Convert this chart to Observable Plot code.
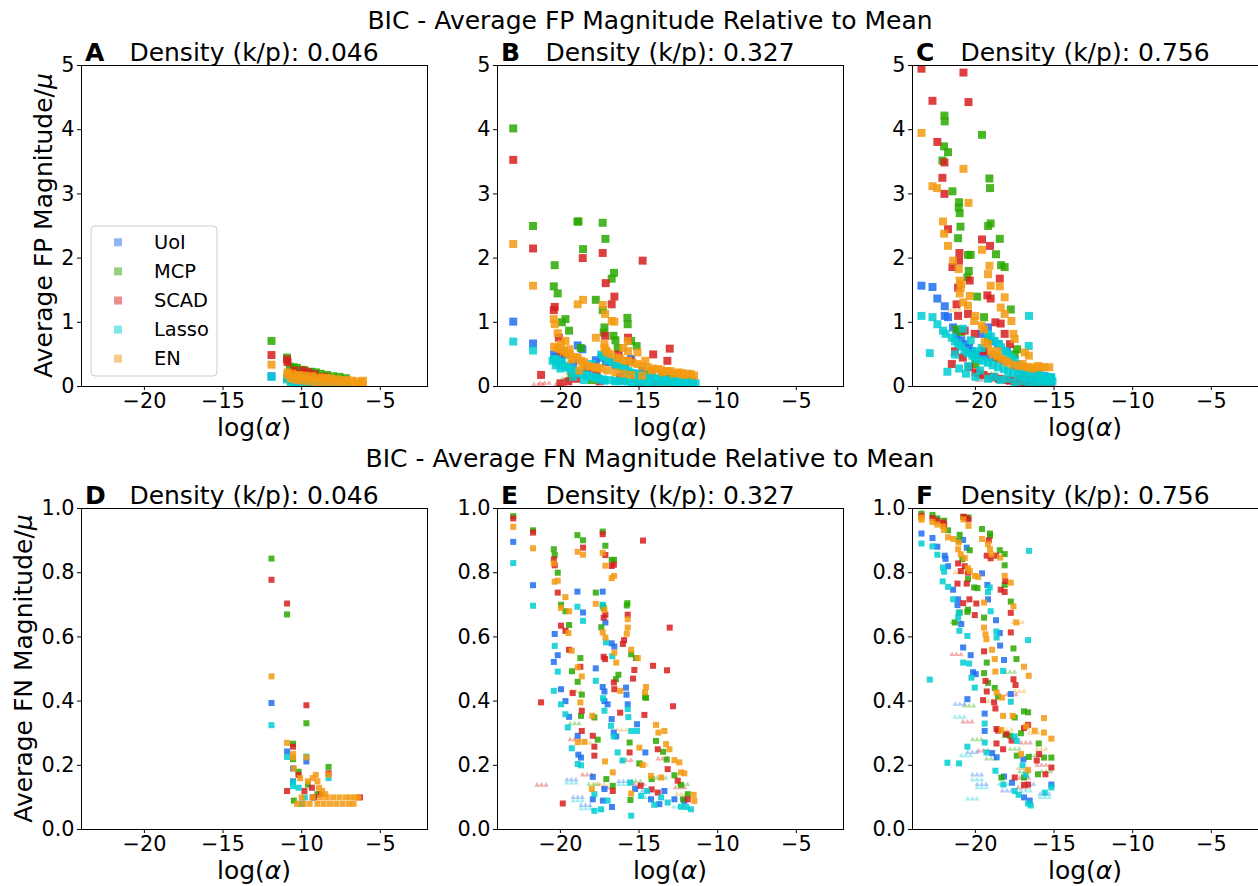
<!DOCTYPE html>
<html><head><meta charset="utf-8">
<script src="https://cdn.jsdelivr.net/npm/d3@7"></script>
<script src="https://cdn.jsdelivr.net/npm/@observablehq/plot@0.6"></script>
<style>
body{margin:0;background:#fff;}
#fig{position:relative;width:1258px;height:886px;overflow:hidden;background:#fff;font-family:"DejaVu Sans",sans-serif;}
</style></head><body><div id="fig"></div>
<script>
const methods = ["UoI","MCP","SCAD","Lasso","EN"];
const colors = ["#1f6ff0","#2aa800","#d81e1e","#00ced1","#f39a12"];
const xTicks = [-20,-15,-10,-5];
const topYTicks = [0,1,2,3,4,5];
const botYTicks = [0,0.2,0.4,0.6,0.8,1.0];
const letters = ["A","B","C","D","E","F"];
const densities = ["0.046","0.327","0.756"];

// ---------- Panel A (FP, density 0.046) ----------
const A_UoI = [[-11.92,0.16],[-10.93,0.13],[-10.7,0.1],[-10.4,0.08],[-10.0,0.06],[-9.5,0.05],[-9.0,0.04]];
const A_MCP = [[-11.92,0.71],[-10.93,0.45],[-10.75,0.31],[-10.5,0.3],[-10.3,0.29],[-10.0,0.26],[-9.8,0.25],[-9.4,0.23],[-9.1,0.22],[-8.8,0.2],[-8.4,0.18],[-8.0,0.16],[-7.6,0.15],[-7.2,0.13]];
const A_SCAD = [[-11.92,0.49],[-10.93,0.42],[-10.9,0.38],[-10.5,0.25],[-9.9,0.25],[-9.6,0.22],[-10.2,0.2],[-9.2,0.19],[-8.6,0.15]];
const A_Lasso = [[-11.92,0.15],[-10.93,0.11],[-10.7,0.07],[-10.4,0.05],[-10.0,0.04],[-9.6,0.03],[-9.2,0.03],[-8.8,0.02],[-8.4,0.02],[-8.0,0.02],[-7.6,0.01],[-7.2,0.01]];
const A_EN = [[-11.92,0.34],[-10.9,0.22],[-10.9,0.18],[-10.6,0.2],[-10.5,0.16],[-10.2,0.18],[-10.0,0.15],[-9.8,0.17],[-9.5,0.14],[-9.3,0.16],[-9.0,0.13],[-8.7,0.14],[-8.5,0.12],[-8.2,0.13],[-8.0,0.11],[-7.7,0.11],[-7.4,0.1],[-7.1,0.1],[-6.8,0.09],[-6.5,0.08],[-6.2,0.07],[-10.7,0.12],[-10.3,0.1],[-9.9,0.09],[-9.5,0.08],[-9.1,0.07],[-8.7,0.07],[-8.3,0.06],[-7.9,0.06],[-7.5,0.05],[-7.1,0.05],[-6.7,0.04],[-6.3,0.04],[-6.1,0.03],[-6.1,0.09]];

// ---------- Panel B (FP, density 0.327) ----------
const B_UoI = [[-23.0,1.01],[-21.74,0.67],[-20.4,0.5],[-20.3,0.45],[-18.9,0.64],[-18.6,0.58],[-19.7,0.5],[-17.75,0.41],[-17.4,0.45],[-17.1,0.38],[-16.5,0.33],[-15.5,0.43],[-15.9,0.3],[-14.8,0.25],[-14.2,0.2],[-13.5,0.16],[-12.8,0.12],[-12.2,0.1],[-11.6,0.08],[-19.2,0.35],[-18.2,0.28],[-20.0,0.4]];
const B_MCP = [[-23.0,4.02],[-21.74,2.5],[-18.92,2.57],[-18.85,2.57],[-17.31,2.55],[-17.14,2.3],[-18.56,2.14],[-20.36,1.89],[-20.42,1.56],[-20.17,1.45],[-16.59,1.77],[-16.74,1.68],[-17.75,1.35],[-17.31,1.19],[-19.68,1.05],[-19.91,1.0],[-19.45,0.87],[-15.74,1.07],[-15.72,0.97],[-17.2,0.92],[-16.63,0.79],[-17.25,0.84],[-15.15,0.63],[-16.36,0.6],[-18.7,0.6],[-15.5,0.71],[-16.5,0.72],[-19.3,0.15],[-18.0,0.1],[-14.5,0.2],[-13.0,0.12],[-12.0,0.1]];
const B_SCAD = [[-23.0,3.53],[-21.74,2.15],[-18.58,2.0],[-17.31,2.08],[-14.77,1.96],[-17.12,1.61],[-16.57,1.4],[-16.74,1.28],[-20.36,1.24],[-20.42,1.19],[-17.16,0.79],[-15.7,0.76],[-13.05,0.59],[-13.2,0.4],[-14.1,0.5],[-20.1,0.76],[-19.96,0.53],[-21.23,0.18],[-15.6,0.4],[-16.3,0.5],[-17.0,0.45],[-18.3,0.3],[-19.0,0.12],[-17.5,0.08],[-16.0,0.1],[-15.0,0.05],[-14.0,0.04],[-13.0,0.03],[-12.0,0.02],[-20.0,0.05],[-16.8,0.38],[-18.8,0.2],[-17.7,0.18],[-16.2,0.15],[-15.3,0.12],[-13.5,0.08],[-12.5,0.05],[-11.6,0.03],[-19.5,0.08]];
const B_Lasso = [[-23.0,0.7],[-21.74,0.56],[-20.38,0.43],[-20.17,0.37],[-20.3,0.33],[-19.7,0.32],[-19.4,0.28],[-19.1,0.24],[-18.8,0.21],[-18.5,0.19],[-18.2,0.16],[-17.8,0.14],[-17.5,0.11],[-17.2,0.09],[-17.4,0.5],[-17.2,0.46],[-17.0,0.43],[-16.7,0.38],[-16.4,0.32],[-16.0,0.28],[-15.7,0.24],[-15.4,0.21],[-15.1,0.19],[-14.7,0.16],[-14.2,0.14],[-13.8,0.12],[-13.4,0.1],[-13.0,0.09],[-12.5,0.08],[-12.1,0.07],[-11.7,0.06],[-11.4,0.05],[-19.9,0.38],[-19.2,0.15],[-18.5,0.1],[-16.5,0.08],[-15.5,0.06],[-14.5,0.05],[-20.0,0.28],[-18.0,0.35],[-16.0,0.12],[-15.0,0.1],
  [-20.5,0.4],[-20.2,0.42],[-19.9,0.33],[-19.6,0.3],[-19.3,0.26],[-19.0,0.22],[-18.7,0.2],[-18.3,0.17],[-17.9,0.15],[-17.6,0.13],[-17.3,0.11],[-16.9,0.1],[-16.5,0.09],[-16.1,0.08],[-15.7,0.08],[-15.3,0.07],[-14.9,0.07],[-14.4,0.06],[-14.0,0.06],[-13.6,0.06],[-13.2,0.05],[-12.8,0.05],[-12.4,0.05],[-12.0,0.05],[-11.6,0.05],
  [-17.3,0.48],[-16.9,0.4],[-16.2,0.3],[-15.9,0.26],[-15.6,0.22],[-15.2,0.2],[-14.9,0.18],[-14.5,0.15],[-14.0,0.13],[-13.6,0.11],[-13.2,0.1],[-12.7,0.08],[-12.3,0.07],[-11.9,0.06]];
const B_EN = [[-23.0,2.22],[-21.74,1.57],[-18.56,1.35],[-18.9,1.28],[-17.31,1.27],[-17.16,1.13],[-16.74,1.02],[-16.57,1.01],[-20.42,1.05],[-20.36,0.97],[-20.17,0.83],[-17.75,0.76],[-15.72,0.71],[-19.68,0.71],[-19.96,0.66],[-19.43,0.58],[-17.2,0.66],[-17.1,0.56],[-15.1,0.53],[-14.6,0.4],[-20.2,0.6],[-19.8,0.55],[-19.4,0.5],[-18.9,0.45],[-18.7,0.4],[-18.3,0.32],[-17.8,0.3],[-17.4,0.28],[-17.0,0.53],[-16.4,0.45],[-15.7,0.4],[-15.1,0.35],[-14.45,0.3],[-13.8,0.27],[-13.2,0.24],[-12.5,0.22],[-11.9,0.2],[-11.5,0.17],[-16.0,0.6],[-15.7,0.55],[-18.5,0.38],[-17.0,0.25],[-16.5,0.22],[-16.0,0.2],[-15.5,0.18],[-14.8,0.17],[-14.2,0.25],[-13.5,0.22],[-12.8,0.2],[-12.2,0.18],[-19.3,0.42],[-18.8,0.25],
  [-20.4,0.62],[-20.0,0.58],[-19.6,0.52],[-19.1,0.46],[-18.6,0.36],[-18.1,0.31],[-17.6,0.29],[-17.2,0.6],[-16.8,0.5],[-16.2,0.43],[-15.9,0.4],[-15.4,0.37],[-14.8,0.32],[-14.1,0.28],[-13.6,0.26],[-13.0,0.24],[-12.3,0.21],[-11.7,0.19]];

// ---------- Panel C (FP, density 0.756) ----------
const C_UoI = [[-23.43,1.57],[-22.73,1.55],[-22.42,1.37],[-21.95,1.25],[-21.95,1.1],[-21.74,1.08],[-21.42,0.92],[-19.2,0.92],[-18.56,0.66],[-20.68,0.66],[-21.2,0.8],[-20.9,0.72],[-20.4,0.6],[-19.8,0.5],[-19.0,0.45],[-18.2,0.4],[-17.6,0.32],[-17.0,0.25],[-16.3,0.2],[-15.6,0.16],[-15.2,0.14],[-19.6,0.82],[-18.9,0.7],[-18.0,0.55],[-20.2,0.55],[-19.5,0.48],[-18.5,0.42],[-17.3,0.28]];
const C_MCP = [[-21.97,4.22],[-21.95,4.13],[-19.58,3.92],[-21.99,3.74],[-21.74,3.65],[-22.1,3.52],[-19.11,3.24],[-19.07,3.09],[-21.46,3.04],[-21.04,2.87],[-21.06,2.79],[-21.0,2.7],[-20.95,2.49],[-19.19,2.5],[-19.03,2.54],[-18.45,2.3],[-21.1,2.31],[-18.69,2.06],[-20.47,2.05],[-20.3,2.05],[-18.37,1.89],[-18.14,1.86],[-20.42,1.8],[-20.51,1.7],[-19.89,1.4],[-17.75,1.2],[-19.45,1.08],[-17.35,0.58],[-21.2,0.89],[-20.9,0.85],[-17.5,0.5],[-19.2,0.75],[-18.6,0.45],[-16.0,0.2],[-17.0,0.15],[-20.0,0.35]];
const C_SCAD = [[-23.43,4.95],[-20.76,4.89],[-22.73,4.45],[-20.44,4.43],[-22.42,3.81],[-21.97,3.49],[-22.1,3.25],[-21.97,3.0],[-21.74,2.45],[-19.58,2.29],[-19.07,2.19],[-21.02,2.08],[-21.04,1.96],[-21.46,1.86],[-20.36,1.65],[-18.45,1.68],[-21.1,1.54],[-19.24,1.42],[-19.03,1.37],[-18.73,1.0],[-18.39,0.98],[-18.14,0.82],[-21.2,1.28],[-21.1,1.1],[-20.47,1.13],[-20.68,0.87],[-20.04,0.82],[-19.45,0.55],[-17.8,0.66],[-21.3,0.55],[-20.8,0.45],[-20.0,0.22],[-19.5,0.18],[-19.0,0.15],[-18.5,0.12],[-18.0,0.1],[-17.5,0.08],[-17.0,0.06],[-16.5,0.05],[-16.0,0.05],[-15.5,0.04],[-20.4,0.3],[-17.2,0.12],[-16.5,0.12],[-15.3,0.08],[-21.5,0.35],[-19.8,0.2],[-18.8,0.14],[-17.8,0.09],[-16.8,0.07],[-15.8,0.06],[-15.2,0.05]];
const C_Lasso = [[-23.43,1.1],[-22.73,1.08],[-22.42,0.97],[-22.06,0.87],[-21.9,0.82],[-22.9,0.52],[-21.78,0.23],[-21.04,0.28],[-16.59,1.1],[-16.61,0.63],[-21.5,0.76],[-21.1,0.66],[-20.68,0.56],[-20.04,0.45],[-19.2,0.37],[-18.56,0.3],[-17.92,0.24],[-17.3,0.19],[-16.65,0.14],[-15.8,0.11],[-15.2,0.09],[-19.2,0.82],[-18.77,0.71],[-18.35,0.61],[-17.92,0.5],[-17.5,0.4],[-17.08,0.3],[-16.44,0.22],[-15.8,0.17],[-15.17,0.14],[-20.47,0.32],[-20.0,0.55],[-21.3,0.5],[-19.7,0.25],[-18.8,0.15],[-18.0,0.12],[-17.0,0.08],[-16.2,0.07],[-15.4,0.06],[-20.8,0.9],[-20.3,0.72],[-19.6,0.6],
  [-21.3,0.7],[-20.9,0.62],[-20.5,0.52],[-20.2,0.48],[-19.8,0.42],[-19.5,0.4],[-18.9,0.33],[-18.2,0.27],[-17.6,0.21],[-17.0,0.16],[-16.3,0.12],[-15.6,0.1],[-15.1,0.08],[-19.0,0.78],[-18.5,0.66],[-18.1,0.55],[-17.7,0.45],[-17.3,0.35],[-16.8,0.26],[-16.0,0.19],[-15.4,0.15],[-20.6,0.2],[-20.0,0.15],[-19.2,0.12],[-18.4,0.1],[-17.5,0.07],[-16.6,0.06],[-15.8,0.05]];
const C_EN = [[-23.43,3.95],[-20.76,3.39],[-22.73,3.12],[-22.44,3.09],[-20.44,2.86],[-22.06,2.57],[-21.99,2.38],[-21.74,2.19],[-19.58,2.13],[-19.11,1.88],[-19.2,1.75],[-18.45,1.56],[-19.03,1.57],[-21.42,1.96],[-21.06,1.83],[-21.0,1.65],[-20.93,1.54],[-20.36,1.41],[-20.78,1.31],[-20.47,1.26],[-18.14,1.39],[-18.39,1.23],[-18.14,1.13],[-17.71,1.02],[-20.0,1.1],[-20.08,1.02],[-19.45,0.89],[-17.58,0.82],[-17.5,0.74],[-19.41,0.69],[-19.2,0.66],[-16.86,0.53],[-16.6,0.48],[-18.88,0.5],[-18.35,0.43],[-17.92,0.37],[-17.3,0.32],[-16.65,0.3],[-16.0,0.32],[-15.8,0.3],[-15.3,0.3],[-21.0,1.45],[-20.9,1.6],[-18.6,0.55],[-17.0,0.35],[-16.3,0.28],
  [-18.6,0.47],[-18.1,0.4],[-17.6,0.34],[-16.9,0.31],[-16.4,0.3],[-15.6,0.3],[-19.0,0.55],[-19.6,0.95]];

// ---------- Panel D (FN, density 0.046) ----------
const D_UoI = [[-11.92,0.394],[-10.93,0.243],[-9.7,0.212],[-10.55,0.19],[-10.55,0.15],[-9.3,0.1],[-10.0,0.08]];
const D_MCP = [[-11.92,0.844],[-10.93,0.67],[-9.7,0.331],[-10.55,0.267],[-10.55,0.219],[-8.29,0.195],[-10.2,0.18],[-10.5,0.09],[-9.6,0.14],[-9.0,0.11]];
const D_SCAD = [[-11.92,0.778],[-10.93,0.704],[-9.7,0.387],[-10.55,0.258],[-8.29,0.175],[-10.93,0.12],[-9.83,0.12],[-9.35,0.13],[-10.2,0.17],[-9.2,0.1],[-6.29,0.1],[-8.8,0.11]];
const D_Lasso = [[-11.92,0.325],[-10.93,0.226],[-9.7,0.227],[-10.55,0.146],[-10.55,0.135],[-8.29,0.16],[-10.0,0.08],[-9.8,0.1],[-10.2,0.13]];
const D_EN = [[-11.92,0.477],[-10.93,0.27],[-10.55,0.235],[-10.55,0.225],[-9.7,0.225],[-8.29,0.17],[-10.5,0.19],[-10.1,0.16],[-9.6,0.15],[-9.3,0.16],[-9.1,0.17],[-9.0,0.15],[-8.9,0.13],[-8.7,0.12],[-8.5,0.11],[-10.3,0.08],[-10.0,0.1],[-9.9,0.08],[-9.5,0.08],[-9.3,0.1],[-9.0,0.08],[-8.8,0.1],[-8.6,0.08],[-8.4,0.1],[-8.2,0.08],[-8.0,0.1],[-7.8,0.08],[-7.6,0.1],[-7.4,0.08],[-7.2,0.1],[-7.0,0.08],[-6.9,0.1],[-6.7,0.08],[-6.6,0.1],[-6.4,0.1]];

// ---------- Panel E (FN, density 0.327) ----------
const E_UoI = [[-23.0,0.896],[-21.74,0.761],[-18.92,0.741],[-18.56,0.676],[-17.31,0.741],[-17.14,0.645],[-16.74,0.58],[-16.57,0.57],[-20.36,0.609],[-20.17,0.543],[-20.42,0.522],[-19.96,0.437],[-19.68,0.4],[-19.45,0.351],[-18.9,0.292],[-18.86,0.233],[-18.69,0.224],[-17.75,0.502],[-17.31,0.444],[-17.2,0.43],[-17.2,0.4],[-17.0,0.39],[-16.74,0.344],[-16.61,0.302],[-16.45,0.29],[-15.83,0.442],[-15.8,0.42],[-15.72,0.39],[-15.13,0.328],[-14.6,0.24],[-15.25,0.126],[-14.24,0.094],[-13.71,0.079],[-13.39,0.12],[-12.75,0.094],[-12.12,0.089],[-17.94,0.164],[-17.2,0.126],[-17.94,0.094],[-16.72,0.07],[-17.3,0.09]];
const E_MCP = [[-23.0,0.976],[-21.74,0.932],[-18.92,0.917],[-18.56,0.901],[-17.31,0.928],[-17.14,0.884],[-16.74,0.84],[-16.59,0.84],[-20.42,0.873],[-20.36,0.855],[-20.17,0.8],[-17.75,0.738],[-19.96,0.7],[-19.68,0.68],[-19.45,0.637],[-15.74,0.705],[-15.78,0.698],[-17.31,0.697],[-17.25,0.69],[-19.26,0.493],[-18.73,0.534],[-18.9,0.46],[-18.64,0.42],[-16.31,0.482],[-16.47,0.468],[-17.4,0.63],[-15.5,0.546],[-15.2,0.534],[-14.62,0.413],[-14.55,0.41],[-13.92,0.276],[-13.47,0.242],[-13.24,0.218],[-12.75,0.169],[-12.33,0.139],[-11.9,0.11],[-12.2,0.094],[-17.63,0.28],[-18.69,0.354],[-17.84,0.349],[-16.67,0.136],[-15.6,0.271],[-14.98,0.206],[-15.55,0.092],[-17.08,0.157],[-14.2,0.157]];
const E_SCAD = [[-23.0,0.969],[-21.74,0.925],[-18.56,0.878],[-17.31,0.92],[-17.14,0.855],[-16.74,0.821],[-16.6,0.825],[-14.75,0.9],[-20.42,0.841],[-20.36,0.823],[-20.17,0.738],[-19.96,0.635],[-19.68,0.619],[-19.45,0.56],[-17.14,0.669],[-17.25,0.66],[-15.72,0.669],[-15.95,0.59],[-16.03,0.578],[-13.05,0.629],[-14.11,0.51],[-13.22,0.496],[-12.84,0.384],[-21.23,0.396],[-18.73,0.507],[-19.22,0.425],[-18.64,0.37],[-18.64,0.307],[-17.94,0.292],[-17.84,0.258],[-17.84,0.23],[-17.16,0.531],[-17.25,0.538],[-16.57,0.437],[-16.6,0.458],[-15.3,0.497],[-15.38,0.47],[-14.66,0.357],[-13.81,0.25],[-13.18,0.188],[-12.54,0.152],[-11.9,0.094],[-19.85,0.081],[-16.67,0.12],[-16.2,0.364],[-15.6,0.24],[-14.9,0.136],[-13.81,0.115],[-14.2,0.125]];
const E_Lasso = [[-23.0,0.83],[-21.74,0.697],[-18.92,0.694],[-18.56,0.65],[-17.31,0.7],[-17.1,0.583],[-16.7,0.54],[-20.36,0.572],[-20.17,0.492],[-20.42,0.432],[-19.96,0.39],[-19.68,0.359],[-19.53,0.318],[-19.28,0.253],[-18.9,0.204],[-18.69,0.2],[-17.75,0.463],[-17.29,0.409],[-17.2,0.37],[-16.78,0.323],[-16.61,0.29],[-16.36,0.24],[-16.05,0.215],[-15.72,0.375],[-15.68,0.35],[-15.5,0.307],[-15.13,0.307],[-15.55,0.146],[-15.5,0.043],[-14.87,0.105],[-14.03,0.077],[-13.18,0.084],[-12.33,0.071],[-11.7,0.063],[-17.84,0.11],[-17.42,0.063],[-17.84,0.058],[-17.0,0.09],[-14.5,0.12],[-13.6,0.1],[-12.0,0.07]];
const E_EN = [[-23.0,0.943],[-21.74,0.876],[-20.42,0.829],[-20.36,0.772],[-20.17,0.775],[-19.68,0.724],[-19.96,0.69],[-19.45,0.68],[-18.9,0.865],[-18.56,0.856],[-17.31,0.862],[-17.14,0.822],[-16.74,0.783],[-16.59,0.79],[-17.75,0.703],[-17.2,0.684],[-17.31,0.614],[-17.14,0.598],[-19.49,0.612],[-19.28,0.557],[-18.9,0.505],[-18.64,0.477],[-18.73,0.396],[-18.47,0.273],[-18.9,0.272],[-17.97,0.354],[-15.72,0.655],[-15.72,0.629],[-15.78,0.61],[-15.5,0.56],[-15.08,0.534],[-14.56,0.444],[-14.62,0.427],[-13.92,0.326],[-13.77,0.302],[-13.39,0.307],[-13.28,0.266],[-13.07,0.25],[-12.75,0.216],[-12.44,0.209],[-12.33,0.178],[-12.12,0.175],[-11.53,0.108],[-11.48,0.089],[-16.67,0.178],[-17.16,0.212],[-16.2,0.432],[-16.57,0.551],[-16.45,0.52],[-14.98,0.255],[-14.77,0.201],[-14.24,0.167],[-15.5,0.112],[-13.6,0.162],[-18.0,0.126]];

// ---------- Panel F (FN, density 0.756) ----------
const F_UoI = [[-23.43,0.922],[-22.73,0.908],[-22.42,0.881],[-21.95,0.853],[-21.9,0.843],[-21.74,0.82],[-21.42,0.747],[-20.78,0.902],[-20.55,0.878],[-19.58,0.798],[-19.24,0.762],[-19.2,0.717],[-18.69,0.652],[-18.45,0.612],[-18.43,0.573],[-18.18,0.528],[-17.75,0.422],[-16.95,0.219],[-21.1,0.717],[-21.14,0.699],[-20.9,0.64],[-20.78,0.567],[-20.3,0.543],[-19.98,0.484],[-20.15,0.49],[-20.51,0.406],[-19.41,0.361],[-19.41,0.307],[-18.94,0.238],[-18.65,0.225],[-18.18,0.165],[-17.67,0.146],[-16.91,0.1],[-16.55,0.09],[-15.17,0.14]];
const F_MCP = [[-23.43,0.984],[-22.73,0.98],[-22.42,0.969],[-21.99,0.962],[-21.74,0.932],[-20.76,0.974],[-20.44,0.972],[-19.58,0.936],[-19.07,0.922],[-19.07,0.915],[-18.45,0.87],[-18.14,0.858],[-18.14,0.823],[-18.14,0.762],[-17.75,0.71],[-17.58,0.564],[-17.39,0.531],[-16.91,0.368],[-16.65,0.365],[-15.97,0.268],[-15.64,0.224],[-15.17,0.224],[-21.0,0.918],[-21.06,0.9],[-20.36,0.87],[-20.83,0.842],[-20.08,0.754],[-19.87,0.752],[-20.47,0.78],[-19.45,0.66],[-19.28,0.52],[-19.45,0.487],[-19.2,0.457],[-18.77,0.441],[-18.56,0.414],[-18.1,0.295],[-17.8,0.292],[-17.5,0.349],[-17.37,0.23],[-17.1,0.3],[-16.61,0.226],[-21.0,0.676],[-21.31,0.645],[-20.51,0.678],[-20.47,0.685],[-16.02,0.172],[-16.91,0.162],[-18.35,0.162]];
const F_SCAD = [[-23.43,0.977],[-22.73,0.97],[-22.42,0.962],[-22.06,0.956],[-21.99,0.95],[-20.76,0.974],[-20.57,0.97],[-20.44,0.966],[-19.15,0.901],[-19.28,0.853],[-19.03,0.845],[-18.69,0.853],[-18.39,0.747],[-18.1,0.774],[-18.14,0.74],[-17.75,0.675],[-17.75,0.614],[-17.58,0.468],[-17.45,0.45],[-16.65,0.326],[-16.91,0.316],[-15.95,0.235],[-15.17,0.193],[-15.55,0.172],[-20.68,0.82],[-21.1,0.829],[-20.93,0.805],[-20.47,0.8],[-20.55,0.766],[-21.14,0.766],[-20.38,0.717],[-20.78,0.705],[-19.94,0.704],[-20.04,0.668],[-19.45,0.555],[-19.36,0.463],[-19.28,0.43],[-19.51,0.403],[-18.81,0.396],[-18.73,0.377],[-18.66,0.313],[-18.56,0.308],[-18.66,0.268],[-18.24,0.25],[-18.03,0.297],[-17.7,0.277],[-16.91,0.139],[-16.65,0.14],[-17.5,0.162],[-16.1,0.215]];
const F_Lasso = [[-23.43,0.891],[-22.73,0.882],[-22.42,0.856],[-22.06,0.816],[-21.99,0.803],[-22.08,0.773],[-21.74,0.756],[-21.42,0.717],[-21.1,0.66],[-21.06,0.675],[-21.02,0.619],[-20.51,0.603],[-20.78,0.52],[-20.4,0.517],[-20.25,0.473],[-20.04,0.442],[-19.09,0.754],[-19.2,0.74],[-19.03,0.68],[-18.67,0.617],[-18.65,0.598],[-18.24,0.494],[-17.75,0.398],[-17.5,0.29],[-17.37,0.276],[-16.65,0.59],[-16.59,0.868],[-22.9,0.467],[-21.78,0.208],[-21.04,0.206],[-20.51,0.258],[-19.41,0.33],[-19.41,0.271],[-19.3,0.24],[-18.73,0.183],[-18.22,0.14],[-17.5,0.12],[-17.25,0.108],[-16.65,0.081],[-16.48,0.075],[-15.59,0.115],[-15.17,0.131],[-17.0,0.2],[-16.8,0.17]];
const F_EN = [[-23.43,0.972],[-23.43,0.965],[-22.73,0.958],[-22.42,0.95],[-22.06,0.944],[-21.99,0.933],[-21.74,0.91],[-21.4,0.905],[-21.06,0.894],[-21.1,0.873],[-20.93,0.857],[-20.68,0.846],[-20.44,0.946],[-20.76,0.966],[-19.58,0.905],[-19.2,0.889],[-19.07,0.873],[-18.98,0.857],[-18.43,0.847],[-18.14,0.79],[-17.75,0.769],[-17.58,0.695],[-17.39,0.645],[-16.91,0.507],[-16.61,0.479],[-15.64,0.347],[-15.64,0.302],[-15.17,0.283],[-20.47,0.814],[-20.36,0.805],[-20.04,0.79],[-19.83,0.787],[-19.45,0.707],[-19.45,0.629],[-19.36,0.608],[-19.3,0.593],[-18.94,0.56],[-18.77,0.531],[-18.73,0.492],[-18.65,0.427],[-18.31,0.411],[-18.24,0.354],[-17.63,0.354],[-18.35,0.31],[-16.76,0.321],[-16.23,0.308],[-17.1,0.235],[-16.65,0.185]];

// faint triangle markers: [method, x, y]
const B_tri = [["SCAD",-21.4,0.03],["SCAD",-21.0,0.05],["SCAD",-20.0,0.03],["Lasso",-19.5,0.1],["EN",-19.3,0.2],["MCP",-19.6,0.12]];
const C_tri = [["EN",-21.3,1.19],["SCAD",-21.2,0.5],["Lasso",-21.0,0.45],["EN",-20.1,0.3],["Lasso",-19.8,0.12],["SCAD",-19.6,0.1],["EN",-19.5,0.18],["MCP",-19.0,0.2]];
const E_tri = [["SCAD",-21.2,0.138],["SCAD",-19.1,0.28],["SCAD",-18.3,0.17],["SCAD",-17.0,0.13],["SCAD",-15.8,0.215],["SCAD",-15.0,0.14],["SCAD",-13.5,0.22],["SCAD",-12.4,0.13],
  ["MCP",-19.1,0.33],["MCP",-17.9,0.14],["MCP",-15.2,0.15],["MCP",-13.6,0.16],["MCP",-12.2,0.14],
  ["EN",-19.0,0.43],["EN",-18.4,0.27],["EN",-17.5,0.14],["EN",-16.1,0.31],["EN",-14.8,0.2],["EN",-12.3,0.11],
  ["UoI",-19.3,0.155],["UoI",-18.9,0.1],["UoI",-18.4,0.075],["UoI",-16.0,0.15],["UoI",-14.5,0.12],
  ["Lasso",-19.3,0.145],["Lasso",-18.9,0.09],["Lasso",-18.4,0.065],["Lasso",-17.6,0.06],["Lasso",-16.0,0.14],["Lasso",-14.6,0.1],["Lasso",-12.5,0.07]];
const F_tri = [["UoI",-21.0,0.39],["UoI",-20.2,0.24],["UoI",-19.9,0.17],["UoI",-19.6,0.14],["UoI",-18.0,0.12],["UoI",-16.6,0.14],["UoI",-15.6,0.11],
  ["Lasso",-21.0,0.35],["Lasso",-20.6,0.23],["Lasso",-19.9,0.155],["Lasso",-19.6,0.13],["Lasso",-20.2,0.095],["Lasso",-18.2,0.14],["Lasso",-16.8,0.12],["Lasso",-15.6,0.1],
  ["MCP",-21.2,0.645],["MCP",-20.4,0.385],["MCP",-19.9,0.28],["MCP",-19.0,0.22],["MCP",-17.8,0.49],["MCP",-17.5,0.25],["MCP",-16.9,0.18],["MCP",-15.5,0.18],["MCP",-16.2,0.23],
  ["SCAD",-21.2,0.545],["SCAD",-20.5,0.335],["SCAD",-19.5,0.245],["SCAD",-17.7,0.42],["SCAD",-16.8,0.27],["SCAD",-17.0,0.13],["SCAD",-15.8,0.2],["SCAD",-16.9,0.16],
  ["EN",-21.0,0.8],["EN",-17.3,0.645],["EN",-17.2,0.43],["EN",-18.0,0.31],["EN",-15.8,0.25],["EN",-16.3,0.3],["EN",-17.0,0.19],["EN",-19.2,0.4]];

const fig = document.getElementById("fig");
const minusFmt = d => d < 0 ? "\u2212" + Math.abs(d) : String(d);

function panel(x0, y0, ymax, yticks, yfmt, sets, tris, r) {
  const W = 346, H = 321, ml = 80, mt = 10, mr = 2, mb = 40;
  const rows = methods.flatMap((m, i) => sets[i].map(([x, y]) => ({x, y, m})));
  const triRows = tris.map(([m, x, y]) => ({x, y, m}));
  const chart = Plot.plot({
    width: W + ml + mr, height: H + mt + mb,
    marginLeft: ml, marginTop: mt, marginRight: mr, marginBottom: mb,
    style: {background: "transparent", fontFamily: "DejaVu Sans", fontSize: "20.8px", color: "#000", overflow: "visible"},
    x: {domain: [-24, -2]},
    y: {domain: [0, ymax]},
    color: {domain: methods, range: colors},
    marks: [
      ...[-4.5, 0, 4.5].map(dx => Plot.dot(triRows, {x: "x", y: "y", fill: "m", symbol: "triangle", r: 2, fillOpacity: 0.35, dx, clip: true})),
      Plot.dot(rows, {x: "x", y: "y", fill: "m", symbol: "square", r, fillOpacity: 0.85, clip: true}),
      Plot.axisX({ticks: xTicks, tickFormat: minusFmt, tickSize: 4, tickPadding: 3, label: null}),
      Plot.axisY({ticks: yticks, tickFormat: yfmt, tickSize: 4, tickPadding: 3, label: null}),
      Plot.frame({stroke: "#000"})
    ]
  });
  chart.style.position = "absolute";
  chart.style.left = (x0 - ml) + "px";
  chart.style.top = (y0 - mt) + "px";
  fig.appendChild(chart);
}

const colX = [81, 497, 912];
const rowY = [65, 508];
const topFmt = d => String(d);
const botFmt = d => d.toFixed(1);
panel(colX[0], rowY[0], 5, topYTicks, topFmt, [A_UoI, A_MCP, A_SCAD, A_Lasso, A_EN], [], 4.5);
panel(colX[1], rowY[0], 5, topYTicks, topFmt, [B_UoI, B_MCP, B_SCAD, B_Lasso, B_EN], B_tri, 4.5);
panel(colX[2], rowY[0], 5, topYTicks, topFmt, [C_UoI, C_MCP, C_SCAD, C_Lasso, C_EN], C_tri, 4.5);
panel(colX[0], rowY[1], 1, botYTicks, botFmt, [D_UoI, D_MCP, D_SCAD, D_Lasso, D_EN], [], 3.4);
panel(colX[1], rowY[1], 1, botYTicks, botFmt, [E_UoI, E_MCP, E_SCAD, E_Lasso, E_EN], E_tri, 3.4);
panel(colX[2], rowY[1], 1, botYTicks, botFmt, [F_UoI, F_MCP, F_SCAD, F_Lasso, F_EN], F_tri, 3.4);

// ---------- text overlay ----------
const svg = d3.create("svg").attr("width", 1258).attr("height", 886)
  .style("position", "absolute").style("left", "0px").style("top", "0px")
  .style("font-family", "DejaVu Sans").style("pointer-events", "none");
svg.append("text").attr("x", 650).attr("y", 29).attr("text-anchor", "middle").attr("font-size", 25)
  .text("BIC - Average FP Magnitude Relative to Mean");
svg.append("text").attr("x", 650).attr("y", 467).attr("text-anchor", "middle").attr("font-size", 25)
  .text("BIC - Average FN Magnitude Relative to Mean");
const W = 346;
[0, 1].forEach(ri => {
  const base = ri === 0 ? 61 : 504;
  colX.forEach((x0, ci) => {
    svg.append("text").attr("x", x0 + 4).attr("y", base).attr("font-size", 25).attr("font-weight", "bold")
      .text(letters[ri * 3 + ci]);
    svg.append("text").attr("x", x0 + W / 2).attr("y", base).attr("text-anchor", "middle").attr("font-size", 25)
      .text("Density (k/p): " + densities[ci]);
    const xl = svg.append("text").attr("x", x0 + W / 2).attr("y", ri === 0 ? 436 : 879)
      .attr("text-anchor", "middle").attr("font-size", 25);
    xl.append("tspan").text("log(");
    xl.append("tspan").attr("font-style", "italic").text("\u03b1");
    xl.append("tspan").text(")");
  });
  const yl = svg.append("text").attr("text-anchor", "middle").attr("font-size", 25)
    .attr("transform", ri === 0 ? "translate(52,225.5) rotate(-90)" : "translate(32,668.5) rotate(-90)");
  yl.append("tspan").text(ri === 0 ? "Average FP Magnitude/" : "Average FN Magnitude/");
  yl.append("tspan").attr("font-style", "italic").text("\u03bc");
});
// legend
const lg = svg.append("g");
lg.append("rect").attr("x", 91).attr("y", 226).attr("width", 126).attr("height", 150).attr("rx", 4)
  .attr("fill", "#fff").attr("fill-opacity", 0.8).attr("stroke", "#cccccc");
methods.forEach((m, i) => {
  const cy = 242.3 + i * 29.1;
  lg.append("rect").attr("x", 114).attr("y", cy - 4).attr("width", 8).attr("height", 8)
    .attr("fill", colors[i]).attr("fill-opacity", 0.5);
  lg.append("text").attr("x", 154).attr("y", cy + 6.5).attr("font-size", 19.4).text(m);
});
fig.appendChild(svg.node());
</script></body></html>
